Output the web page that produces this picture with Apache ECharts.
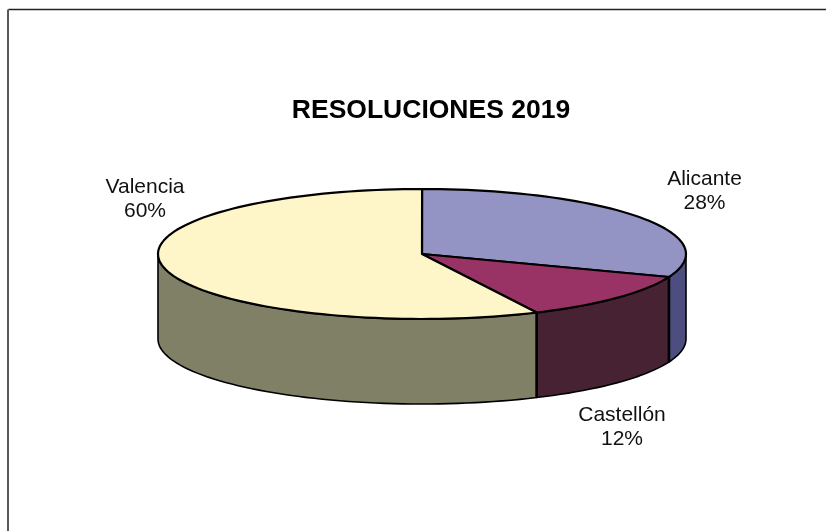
<!DOCTYPE html>
<html>
<head>
<meta charset="utf-8">
<title>Resoluciones 2019</title>
<style>
	html, body { margin: 0; padding: 0; background: #fff; }
	#main { width: 826px; height: 531px; }
</style>
<script src="https://cdn.jsdelivr.net/npm/echarts@6/dist/echarts.min.js"></script>
</head>
<body>
<div id="main"></div>
<script>
	var categories = ['Alicante', 'Castellón', 'Valencia'];
	var values = [28, 12, 60];
	var topColors = ['#9494c4', '#993366', '#fef5c8'];
	var sideColors = ['#4d4d80', '#472233', '#7f8066'];

	var cx = 422, cy = 254, rx = 264, ry = 65, depth = 85;
	var FONT = '"Liberation Sans", Arial, sans-serif';

	// 3D view of the original moves the slices round a little
	function viewAngle(deg){
		return deg + 10.35 * Math.pow(Math.sin(deg / 2 * Math.PI / 180), 0.17);
	}

	function rimPoint(deg, dy){
		var a = deg * Math.PI / 180;
		return [cx + rx * Math.sin(a), cy - ry * Math.cos(a) + dy];
	}

	function arc(from, to, dy){
		var pts = [];
		var n = Math.max(2, Math.ceil(Math.abs(to - from) / 2));
		for(var i=0; i<=n; i++){
			pts.push(rimPoint(from + (to - from) * i / n, dy));
		}
		return pts;
	}

	function sliceAngles(index){
		var sum = 0, total = 0;
		values.forEach(function(v, i){
			total += v;
			if(i < index) sum += v;
		});
		return [
			viewAngle(sum / total * 360),
			viewAngle((sum + values[index]) / total * 360)
		];
	}

	// front wall, only the part between 90 and 270 degrees can be seen
	function renderSide(params, api){
		var i = api.value(0);
		var range = sliceAngles(i);
		var from = Math.max(range[0], 90);
		var to = Math.min(range[1], 270);
		var pts = arc(from, to, 0).concat(arc(to, from, depth));
		var children = [{
			type: 'polygon',
			shape: { points: pts },
			style: { fill: sideColors[i], stroke: '#000', lineWidth: 1.6, lineJoin: 'round' }
		}];
		// the edges between two walls are heavier than the outline
		if(to < 270){
			var a = rimPoint(to, 0), b = rimPoint(to, depth);
			children.push({
				type: 'line',
				z2: 5,
				shape: { x1: a[0], y1: a[1], x2: b[0], y2: b[1] },
				style: { stroke: '#000', lineWidth: 2.6 }
			});
		}
		return { type: 'group', children: children };
	}

	function renderTop(params, api){
		var i = api.value(0);
		var range = sliceAngles(i);
		var pts = [[cx, cy]].concat(arc(range[0], range[1], 0));
		return {
			type: 'polygon',
			shape: { points: pts },
			style: { fill: topColors[i], stroke: '#000', lineWidth: 2.2, lineJoin: 'round' }
		};
	}

	var labelCenters = [[704.5, 191], [622, 427], [145, 199]];
	var labels = categories.map(function(name, i){
		return {
			type: 'text',
			x: labelCenters[i][0],
			y: labelCenters[i][1],
			z: 10,
			style: {
				text: name + '\n' + values[i] + '%',
				font: '21px ' + FONT,
				fill: '#111',
				align: 'center',
				verticalAlign: 'middle',
				lineHeight: 24.5
			}
		};
	});

	var seriesData = values.map(function(v, i){
		return [i, v];
	});

	var chart = echarts.init(document.getElementById('main'));
	chart.setOption({
		animation: false,
		backgroundColor: '#fff',
		title: {
			text: 'RESOLUCIONES 2019',
			left: 426,
			top: 92,
			textAlign: 'center',
			textStyle: { fontFamily: FONT, fontSize: 26.5, fontWeight: 'bold', color: '#000' }
		},
		graphic: [
			{ type: 'line', shape: { x1: 8.5, y1: 9.5, x2: 826, y2: 9.5 }, style: { stroke: '#222', lineWidth: 1.5 } },
			{ type: 'line', shape: { x1: 8, y1: 9.5, x2: 8, y2: 531 }, style: { stroke: '#222', lineWidth: 1.5 } }
		].concat(labels),
		series: [
			{ type: 'custom', coordinateSystem: 'none', renderItem: renderSide, data: seriesData, z: 2 },
			{ type: 'custom', coordinateSystem: 'none', renderItem: renderTop, data: seriesData, z: 3 }
		]
	});
</script>
</body>
</html>
